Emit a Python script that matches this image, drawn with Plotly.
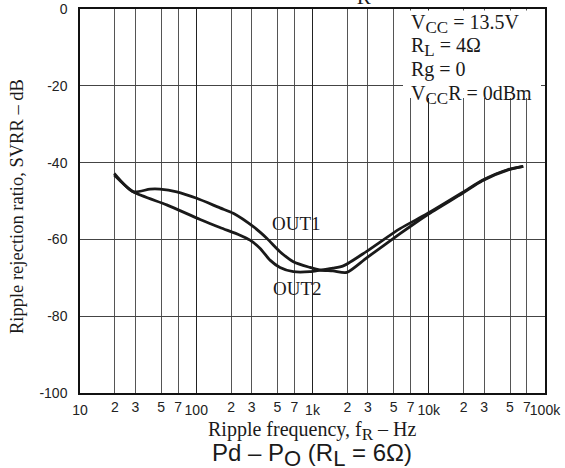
import plotly.graph_objects as go

# ---- data ----
freq_out1 = [19.7, 28.7, 40, 48.7, 68, 101, 160, 208, 310, 404, 525, 684, 951, 1161,
             1500, 1968, 2925, 5663, 9600, 19500, 28900, 48300, 65000]
svrr_out1 = [-42.8, -47.6, -46.9, -46.9, -47.6, -49.3, -51.8, -53.2, -56.7, -59.7, -63.2,
             -65.8, -67.3, -68.0, -68.2, -68.6, -64.8, -58.5, -53.7, -48.0, -44.7, -41.9, -41.0]

freq_out2 = [19.7, 28.7, 55.7, 108, 160, 238, 290, 353, 431, 525, 684, 951, 1161,
             1500, 1841, 2925, 5663, 9600, 19500, 28900, 48300, 65000]
svrr_out2 = [-43.2, -47.6, -51.0, -54.8, -56.9, -58.9, -60.2, -62.3, -65.4, -67.3, -68.4,
             -68.4, -68.0, -67.5, -66.9, -63.1, -57.2, -53.4, -47.8, -44.6, -41.8, -41.0]

minor_vals = [20, 30, 50, 70, 200, 300, 500, 700, 2000, 3000, 5000, 7000,
              20000, 30000, 50000, 70000]
minor_text = ["2", "3", "5", "7"] * 4
decade_vals = [10, 100, 1000, 10000, 100000]
decade_text = ["10", "100", "1k", "10k", "100k"]
y_vals = [0, -20, -40, -60, -80, -100]
y_text = ["0", "-20", "-40", "-60", "-80", "-100"]


def sub(t, size):
    return "<sub><span style='font-size:%dpx'>%s</span></sub>" % (size, t)


cond_lines = ["V" + sub("CC", 17) + " = 13.5V", "R" + sub("L", 17) + " = 4\u03a9", "Rg = 0",
              "V" + sub("CC", 17) + "R = 0dBm"]

SERIF = "Liberation Serif"
SANS = "Liberation Sans"
INK = "#1a1a1a"

fig = go.Figure()
fig.add_trace(go.Scatter(x=freq_out1, y=svrr_out1, mode="lines", name="OUT1",
                         line=dict(color=INK, width=2.8, shape="spline", smoothing=0.7),
                         xaxis="x", yaxis="y", showlegend=False, hoverinfo="skip"))
fig.add_trace(go.Scatter(x=freq_out2, y=svrr_out2, mode="lines", name="OUT2",
                         line=dict(color=INK, width=2.8, shape="spline", smoothing=0.7),
                         xaxis="x2", yaxis="y", showlegend=False, hoverinfo="skip"))

tickfont = dict(family=SANS, size=14, color="#222")

W, H = 565, 468
L, R, T, B = 80, 20, 9, 75
pw, ph = W - L - R, H - T - B


def px_x(px):
    return (px - L) / pw


def px_y(py):
    return (H - B - py) / ph


fig.update_layout(
    template="none",
    width=W, height=H,
    margin=dict(l=L, r=R, t=T, b=B, autoexpand=False),
    paper_bgcolor="white", plot_bgcolor="white",
    xaxis=dict(type="log", range=[1, 5], tickvals=minor_vals, ticktext=minor_text,
               showgrid=True, gridcolor="#555", gridwidth=1, zeroline=False,
               showline=True, mirror=True, linecolor="#111", linewidth=1.5,
               ticks="", tickfont=tickfont, ticklabelstandoff=0, automargin=False),
    xaxis2=dict(type="log", range=[1, 5], overlaying="x", anchor="y", side="bottom",
                matches="x", tickvals=decade_vals, ticktext=decade_text,
                showgrid=True, gridcolor="#222", gridwidth=1, zeroline=False,
                showline=False, ticks="", tickfont=tickfont, ticklabelstandoff=7,
                automargin=False),
    yaxis=dict(range=[-100, 0], tickvals=y_vals, ticktext=y_text,
               showgrid=True, gridcolor="#444", gridwidth=1, zeroline=False,
               showline=True, mirror=True, linecolor="#111", linewidth=1.5,
               ticks="", tickfont=tickfont, ticklabelstandoff=8, automargin=False),
)

# white condition box over the grid
fig.add_shape(type="rect", xref="paper", yref="paper",
              x0=px_x(403), x1=px_x(541), y0=px_y(98), y1=px_y(10.5),
              fillcolor="white", line=dict(width=0), layer="above")

anns = []
for i, t in enumerate(cond_lines):
    anns.append(dict(text=t, xref="paper", yref="paper", x=px_x(409), y=px_y(8.5 + 23.7 * i),
                     xanchor="left", yanchor="top", showarrow=False,
                     font=dict(family=SERIF, size=20, color=INK)))

anns.append(dict(text="OUT1", xref="paper", yref="paper", x=px_x(296), y=px_y(223),
                 xanchor="center", yanchor="middle", showarrow=False,
                 font=dict(family=SERIF, size=19, color=INK)))
anns.append(dict(text="OUT2", xref="paper", yref="paper", x=px_x(297), y=px_y(288),
                 xanchor="center", yanchor="middle", showarrow=False,
                 font=dict(family=SERIF, size=19, color=INK)))

anns.append(dict(text="Ripple rejection ratio, SVRR \u2013 dB", xref="paper", yref="paper",
                 x=px_x(17), y=px_y(207), textangle=-90, xanchor="center", yanchor="middle",
                 showarrow=False, font=dict(family=SERIF, size=18.5, color=INK)))
anns.append(dict(text="Ripple frequency, f" + sub("R", 17) + " \u2013 Hz", xref="paper", yref="paper",
                 x=px_x(312), y=px_y(416), xanchor="center", yanchor="top",
                 showarrow=False, font=dict(family=SERIF, size=20, color=INK)))
anns.append(dict(text="Pd \u2013 P" + sub("O", 22) + " (R" + sub("L", 22) + " = 6\u03a9)",
                 xref="paper", yref="paper",
                 x=px_x(312), y=px_y(437), xanchor="center", yanchor="top",
                 showarrow=False, font=dict(family=SANS, size=24, color=INK)))
# chart title, mostly above the top edge of the picture (as in the reference)
anns.append(dict(text="SVRR \u2013 f" + sub("R", 21), xref="paper", yref="paper",
                 x=px_x(373), y=px_y(11.5), xanchor="right", yanchor="bottom",
                 showarrow=False, font=dict(family=SERIF, size=22, color=INK)))

fig.update_layout(annotations=anns)
fig.write_html(
    "out.html",
    config={"displayModeBar": False},
    post_script="document.body.style.margin='0';document.body.style.overflow='hidden';"
                "document.documentElement.style.overflow='hidden';",
)
